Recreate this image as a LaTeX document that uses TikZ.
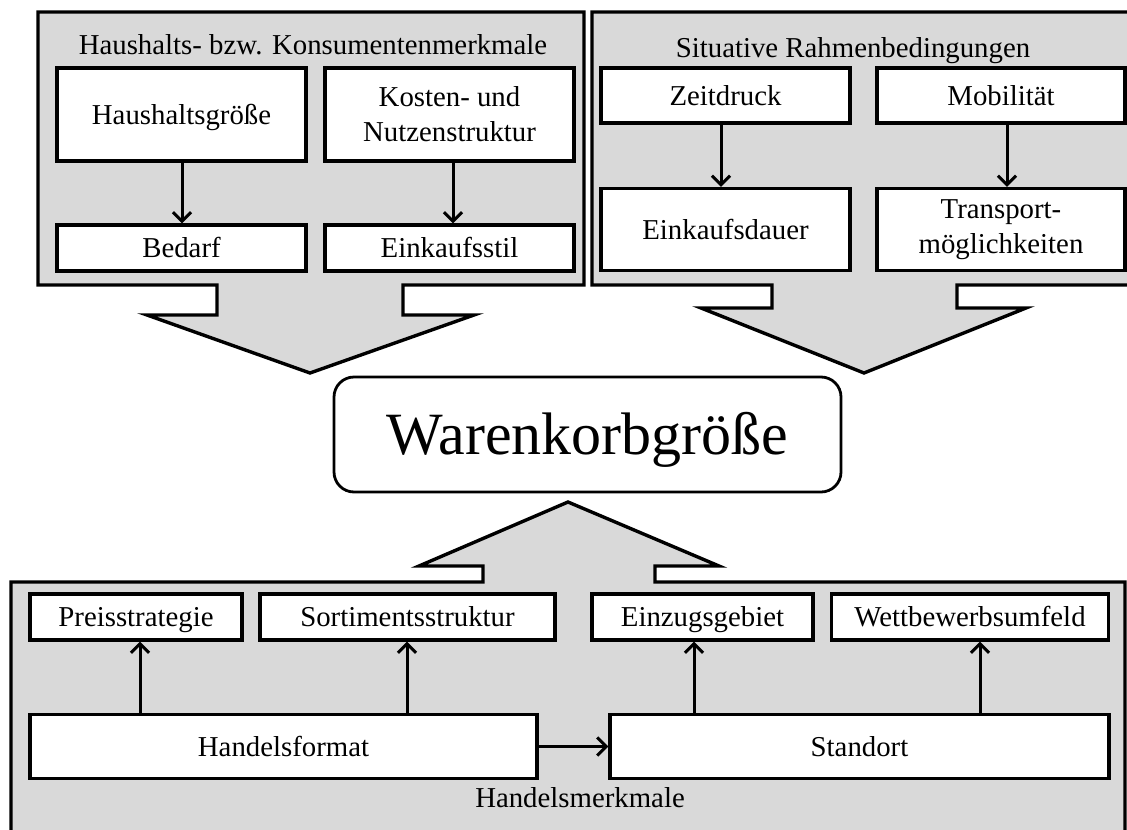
\documentclass[tikz,border=0pt]{standalone}
\usepackage{fontspec}
\setmainfont{Liberation Serif}
\usetikzlibrary{arrows.meta,calc}
\begin{document}
\begin{tikzpicture}[x=0.5pt,y=-0.5pt,
  panel/.style={draw=black,fill=panelgray,line width=1.7pt,line join=miter},
  box/.style={draw=black,fill=white,line width=1.7pt,rectangle,inner sep=0pt,align=center,
    font=\fontsize{14.4}{17.5}\selectfont},
  onel/.style={text height=9.5pt,text depth=0pt},
  title/.style={font=\fontsize{14.4}{17.5}\selectfont,anchor=base,inner sep=0pt},
  arr/.style={line width=1.5pt,-{Straight Barb[length=4.5pt,width=9pt,line width=1.5pt]}},
  mainbox/.style={draw=black,fill=white,line width=1.4pt,rounded corners=10pt,inner sep=0pt,
    font=\fontsize{30}{36}\selectfont,text height=20pt,text depth=0pt}
]
\definecolor{panelgray}{HTML}{D9D9D9}
\useasboundingbox (0,0) rectangle (1127,829);
\clip (0,0) rectangle (1127,829);

% panels with their big arrows
\draw[panel] (38,12) -- (584,12) -- (584,285) -- (403,285) -- (403,315) -- (474,315)
  -- (310,373) -- (147,315) -- (217,315) -- (217,285) -- (38,285) -- cycle;
\draw[panel] (592,12) -- (1140,12) -- (1140,285) -- (957,285) -- (957,308) -- (1026,308)
  -- (864,373) -- (701,308) -- (772,308) -- (772,285) -- (592,285) -- cycle;
\draw[panel] (11,850) -- (11,582) -- (483,582) -- (483,566) -- (419,566) -- (568,502)
  -- (719,566) -- (655,566) -- (655,582) -- (1125,582) -- (1125,850) -- cycle;

% titles
\node[title] (t1) at (313,55) {Haushalts- bzw. Konsumentenmerkmale};
\node[title] (t2) at (853,58) {Situative Rahmenbedingungen};
\node[title] (t3) at (580,807) {Handelsmerkmale};

% left panel boxes
\node[box,onel,minimum width=124.5pt,minimum height=46.5pt] (hg) at (181.5,114.5) {Haushaltsgröße};
\node[box,minimum width=124.5pt,minimum height=46.5pt] (kn) at (449.5,114.5) {Kosten- und\\Nutzenstruktur};
\node[box,onel,minimum width=124.5pt,minimum height=23pt] (bed) at (181.5,248) {Bedarf};
\node[box,onel,minimum width=124.5pt,minimum height=23pt] (eks) at (449.5,248) {Einkaufsstil};

% right panel boxes
\node[box,onel,minimum width=124.5pt,minimum height=27.5pt] (zd) at (725.5,95.5) {Zeitdruck};
\node[box,onel,minimum width=124pt,minimum height=27.5pt] (mob) at (1001,95.5) {Mobilität};
\node[box,onel,minimum width=124.5pt,minimum height=41pt] (ekd) at (725.5,229.5) {Einkaufsdauer};
\node[box,minimum width=124pt,minimum height=41pt] (tr) at (1001,229.5) {Transport-\\möglichkeiten};

% central box
\node[mainbox,minimum width=253.5pt,minimum height=57.5pt] (wk) at (587.5,434.5) {Warenkorbgröße};

% bottom panel boxes
\node[box,onel,minimum width=106pt,minimum height=23pt] (ps) at (136,617) {Preisstrategie};
\node[box,onel,minimum width=147.5pt,minimum height=23pt] (ss) at (407.5,617) {Sortimentsstruktur};
\node[box,onel,minimum width=110.5pt,minimum height=23pt] (ez) at (702.5,617) {Einzugsgebiet};
\node[box,onel,minimum width=138.5pt,minimum height=23pt] (wb) at (970,617) {Wettbewerbsumfeld};
\node[box,onel,minimum width=253.5pt,minimum height=32pt] (hf) at (283.5,746.5) {Handelsformat};
\node[box,onel,minimum width=249.5pt,minimum height=32pt] (so) at (859.5,746.5) {Standort};

% x positions of connectors
\coordinate (xa) at (182,0);
\coordinate (xb) at (453,0);
\coordinate (xc) at (721,0);
\coordinate (xd) at (1007,0);
\coordinate (xe) at (140,0);
\coordinate (xf) at (407,0);
\coordinate (xg) at (694,0);
\coordinate (xh) at (980,0);

\draw[arr] (hg.south -| xa) -- (bed.north -| xa);
\draw[arr] (kn.south -| xb) -- (eks.north -| xb);
\draw[arr] (zd.south -| xc) -- (ekd.north -| xc);
\draw[arr] (mob.south -| xd) -- (tr.north -| xd);
\draw[arr] (hf.north -| xe) -- (ps.south -| xe);
\draw[arr] (hf.north -| xf) -- (ss.south -| xf);
\draw[arr] (so.north -| xg) -- (ez.south -| xg);
\draw[arr] (so.north -| xh) -- (wb.south -| xh);
\draw[arr] (hf.east) -- (so.west);
\end{tikzpicture}
\end{document}
